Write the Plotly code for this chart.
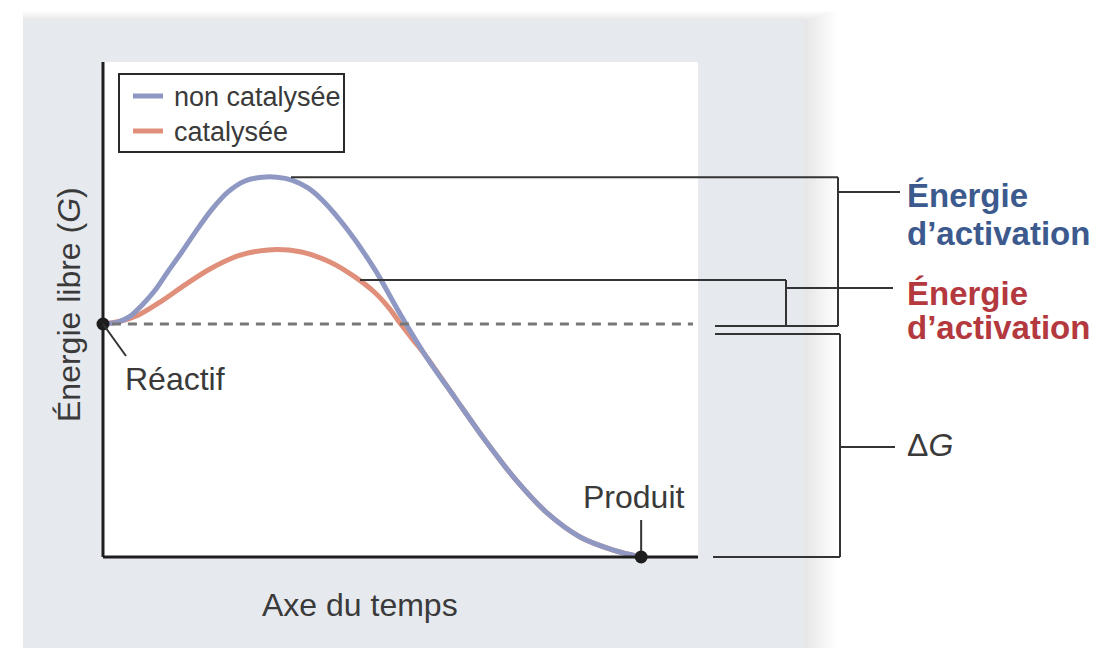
import plotly.graph_objects as go

# ---------------- data (time units 0..100, free energy units) ----------------
t_uncat = [0, 2.5, 4.6, 6.6, 8.8, 10.9, 13.3, 15.8, 18.4, 21.0, 23.9, 26.8, 29.3, 31.8,
           34.5, 36.9, 41.3, 45.8, 50.0, 54.2, 59.3, 64.3, 69.4, 74.8, 80.3, 85.9, 90.6]
g_uncat = [50, 50.4, 51.7, 54.1, 57.3, 61.2, 65.5, 70.2, 74.7, 78.3, 80.7, 81.5, 81.5, 80.9,
           79.2, 76.6, 70.0, 61.6, 52.2, 43.4, 34.1, 25.1, 16.7, 9.4, 4.3, 1.5, 0]
t_cat = [0, 2.9, 5.9, 9.6, 13.8, 18.0, 22.7, 27.8, 33.2, 38.2, 42.4, 45.8, 48.3, 50.0,
         52.2, 54.2, 59.3, 64.3, 69.4, 74.8, 80.3, 85.9, 90.6]
g_cat = [50, 50.6, 51.9, 54.7, 58.4, 61.8, 64.6, 65.9, 65.5, 63.3, 60.1, 56.7, 53.2, 50.2,
         46.6, 43.4, 34.1, 25.1, 16.7, 9.4, 4.3, 1.5, 0]
series_names = ["non catalysée", "catalysée"]
reactant = (0, 50)
product = (90.6, 0)
peak_uncat = 81.5
peak_cat = 65.9
x_title = "Axe du temps"
y_title = "Énergie libre (<i>G</i>)"
label_react = "Réactif"
label_prod = "Produit"
label_ea = ["Énergie", "d’activation"]
label_dg = "Δ<i>G</i>"

# ---------------- layout helpers (reference pixel -> data) ----------------
W, H = 1112, 648
OFF = 8                    # page body margin
X0PX, SX = 103, 5.94       # px of t=0, px per time unit
Y0PX, SY = 557, 4.66       # px of G=0, px per energy unit


def px_x(p):
    return (p - X0PX) / SX


def px_y(p):
    return (Y0PX - p) / SY


BLUE = "#8e98c3"
ORANGE = "#e08f7a"
INK = "#3a3a3a"
LINE = "#333333"
BLUE_TXT = "#3c5a8e"
RED_TXT = "#b3393f"
FONT = "Liberation Sans, Arial, sans-serif"

fig = go.Figure()

fig.add_trace(go.Scatter(x=t_cat, y=g_cat, mode="lines", name=series_names[1],
                         line=dict(color=ORANGE, width=5, shape="spline", smoothing=0.8),
                         showlegend=False, hoverinfo="skip"))
fig.add_trace(go.Scatter(x=t_uncat, y=g_uncat, mode="lines", name=series_names[0],
                         line=dict(color=BLUE, width=5, shape="spline", smoothing=0.8),
                         showlegend=False, hoverinfo="skip"))
# reactant level dashed line
fig.add_trace(go.Scatter(x=[reactant[0] + 1.5, px_x(693)], y=[reactant[1], reactant[1]], mode="lines",
                         line=dict(color="#777777", width=3, dash="9px,7px"),
                         showlegend=False, hoverinfo="skip"))
# points
fig.add_trace(go.Scatter(x=[reactant[0], product[0]], y=[reactant[1], product[1]], mode="markers",
                         marker=dict(color="#1e1e1e", size=13), showlegend=False, hoverinfo="skip"))

shapes = []
# soft shadow on the right and top of the gray panel
for i in range(8):
    d = (i + 1) * 4
    shapes.append(dict(type="rect", xref="x", yref="y", layer="below",
                       x0=px_x(23), x1=px_x(804 + d), y0=px_y(21 - d * 0.3), y1=px_y(670),
                       fillcolor="rgba(120,120,125,0.025)", line=dict(width=0)))
shapes.append(dict(type="rect", xref="x", yref="y", layer="below",
                   x0=px_x(23), x1=px_x(804), y0=px_y(21), y1=px_y(670),
                   fillcolor="#e6e9ee", line=dict(width=0)))
# white plotting area
shapes.append(dict(type="rect", xref="x", yref="y", layer="below",
                   x0=px_x(103), x1=px_x(698), y0=px_y(557), y1=px_y(62),
                   fillcolor="#ffffff", line=dict(width=0)))
# axes
shapes.append(dict(type="line", xref="x", yref="y", x0=0, x1=0, y0=0, y1=px_y(62),
                   line=dict(color="#1e1e1e", width=3)))
shapes.append(dict(type="line", xref="x", yref="y", x0=0, x1=px_x(698), y0=0, y1=0,
                   line=dict(color="#1e1e1e", width=3)))


def seg(x0, y0, x1, y1, w=2, color=LINE):
    shapes.append(dict(type="line", xref="x", yref="y", x0=x0, y0=y0, x1=x1, y1=y1,
                       line=dict(color=color, width=w)))


# blue bracket (uncatalysed activation energy)
seg(px_x(291), peak_uncat, px_x(838), peak_uncat)
seg(px_x(838), peak_uncat, px_x(838), px_y(326))
seg(px_x(715), px_y(326), px_x(838), px_y(326))
seg(px_x(838), px_y(192), px_x(900), px_y(192))
# orange bracket (catalysed activation energy)
seg(px_x(360), px_y(280), px_x(786), px_y(280))
seg(px_x(786), px_y(280), px_x(786), px_y(326))
seg(px_x(786), px_y(288), px_x(893), px_y(288))
# delta G bracket
seg(px_x(715), px_y(334), px_x(840), px_y(334))
seg(px_x(840), px_y(334), px_x(840), product[1])
seg(px_x(713), product[1], px_x(840), product[1])
seg(px_x(840), px_y(447), px_x(895), px_y(447))
# pointers
seg(reactant[0], reactant[1], px_x(126), px_y(356))
seg(product[0], px_y(520), product[0], px_y(551))

# legend box (drawn by hand to match the original layout)
shapes.append(dict(type="rect", xref="x", yref="y", x0=px_x(119), x1=px_x(344),
                   y0=px_y(152), y1=px_y(74), fillcolor="#ffffff",
                   line=dict(color="#2a2a2a", width=2)))
seg(px_x(133), px_y(96), px_x(163), px_y(96), w=5, color=BLUE)
seg(px_x(133), px_y(131), px_x(163), px_y(131), w=5, color=ORANGE)

annotations = []


def txt(text, xpx, ypx, size=32, color=INK, anchor="left", bold=False, angle=0):
    annotations.append(dict(text=f"<b>{text}</b>" if bold else text, x=px_x(xpx), y=px_y(ypx),
                            xref="x", yref="y", showarrow=False, xanchor=anchor, yanchor="middle",
                            textangle=angle, font=dict(family=FONT, size=size, color=color)))


txt(series_names[0], 172, 97, size=27)
txt(series_names[1], 172, 132, size=27)
txt(label_react, 123, 379)
txt(label_prod, 634, 497, anchor="center")
txt(x_title, 360, 605, anchor="center")
txt(y_title, 69, 305, anchor="center", angle=-90)
txt(label_ea[0], 905, 195, size=33, color=BLUE_TXT, bold=True)
txt(label_ea[1], 905, 233, size=33, color=BLUE_TXT, bold=True)
txt(label_ea[0], 905, 293, size=33, color=RED_TXT, bold=True)
txt(label_ea[1], 905, 327, size=33, color=RED_TXT, bold=True)
txt(label_dg, 905, 445)

fig.update_layout(
    width=W, height=H, autosize=False,
    margin=dict(l=0, r=0, t=0, b=0, pad=0),
    paper_bgcolor="#ffffff", plot_bgcolor="rgba(0,0,0,0)",
    xaxis=dict(range=[px_x(OFF), px_x(OFF + W)], visible=False, fixedrange=True),
    yaxis=dict(range=[px_y(OFF + H), px_y(OFF)], visible=False, fixedrange=True),
    shapes=shapes, annotations=annotations,
    showlegend=False,
)

fig.write_html("out.html")
